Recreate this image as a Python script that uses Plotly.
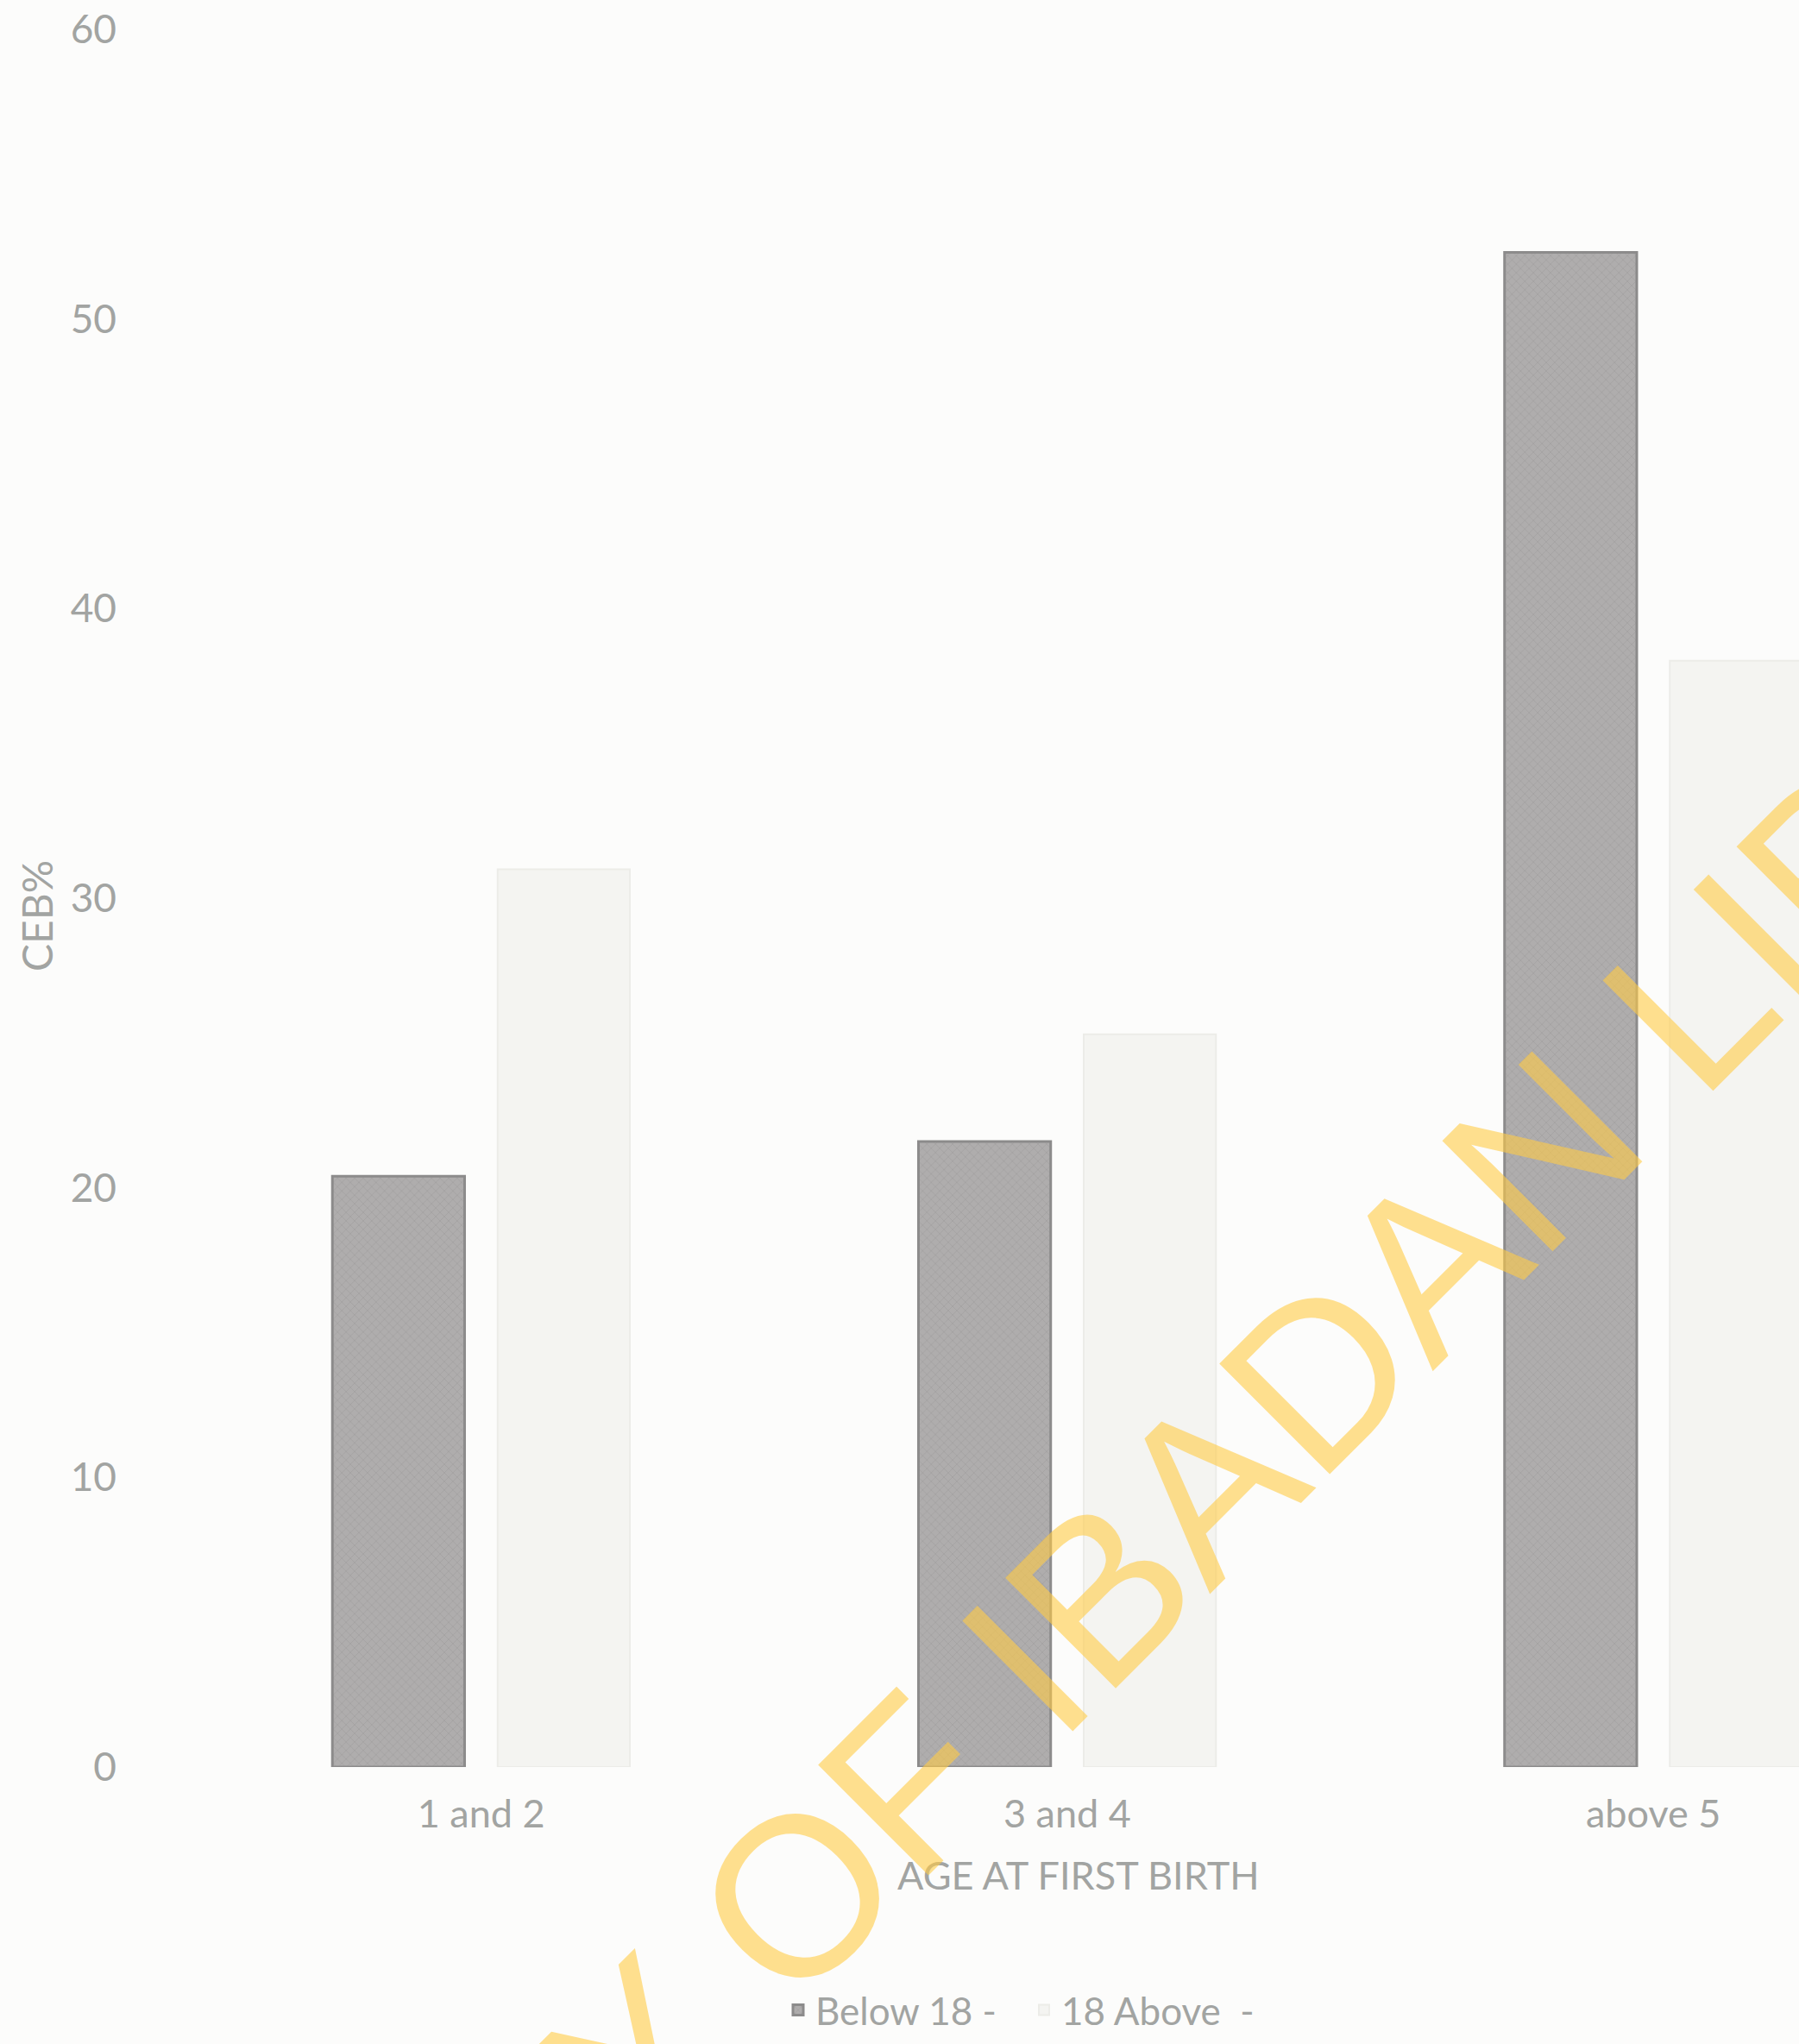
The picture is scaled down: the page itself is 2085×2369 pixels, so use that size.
import plotly.graph_objects as go

# Children ever born (CEB%) by age at first birth
categories = ["1 and 2", "3 and 4", "above 5"]
below_18 = [20.4, 21.6, 52.3]
above_18 = [31.0, 25.3, 38.2]
y_ticks = [0, 10, 20, 30, 40, 50, 60]

W, H = 2085, 2369
M_L, M_R, M_T, M_B = 218, 0, 34, 321
plot_w = W - M_L - M_R
plot_h = H - M_T - M_B
CAT_STEP = 679.25  # pixels per category


def to_paper(px, py):
    """Convert a pixel position on the page into paper coordinates."""
    return (px - M_L) / plot_w, (H - M_B - py) / plot_h


TEXT = "#a2a4a2"
FONT = "Lato, Liberation Sans, Arial, sans-serif"

fig = go.Figure()
fig.add_bar(
    x=categories, y=below_18, name="Below 18 -",
    marker=dict(
        color="#a8a6a6",
        line=dict(color="#8c8b8b", width=3),
        pattern=dict(shape="x", fgcolor="#999797", bgcolor="#afadad",
                     size=7, solidity=0.25),
    ),
)
fig.add_bar(
    x=categories, y=above_18, name="18 Above\u00a0\u00a0-",
    marker=dict(color="#f4f4f1", line=dict(color="#ecece8", width=2)),
)

wm_x, wm_y = to_paper(1193, 1928)
_, title_y = to_paper(0, 2173)
ceb_x, ceb_y = to_paper(42, 1062)
leg_x, leg_y = to_paper(905, 2330)

fig.update_layout(
    width=W, height=H,
    margin=dict(l=M_L, r=M_R, t=M_T, b=M_B, autoexpand=False),
    paper_bgcolor="#fcfcfb",
    plot_bgcolor="#fcfcfb",
    barmode="group",
    bargap=0.436,
    bargroupgap=0.2,
    font=dict(family=FONT, color=TEXT, size=44),
    showlegend=True,
    legend=dict(
        orientation="h", x=leg_x, y=leg_y, xanchor="left", yanchor="middle",
        font=dict(size=44, color=TEXT), bgcolor="rgba(0,0,0,0)",
        entrywidth=240, entrywidthmode="pixels", traceorder="normal",
    ),
    xaxis=dict(
        range=[-0.5, -0.5 + plot_w / CAT_STEP],
        showgrid=False, zeroline=False, showline=False, ticks="",
        tickfont=dict(size=45, color=TEXT), ticklabelstandoff=24,
    ),
    yaxis=dict(
        range=[0, 60], tickvals=y_ticks,
        showgrid=False, zeroline=False, showline=False, ticks="",
        tickfont=dict(size=46, color=TEXT), ticklabelstandoff=82,
        ticklabeloverflow="allow",
    ),
    annotations=[
        dict(
            text="CEB%", xref="paper", yref="paper", x=ceb_x, y=ceb_y,
            xanchor="center", yanchor="middle", textangle=-90, showarrow=False,
            font=dict(size=48, color=TEXT, family=FONT),
        ),
        dict(
            text="AGE AT FIRST BIRTH", xref="x", x=1.02, yref="paper", y=title_y,
            xanchor="center", yanchor="middle", showarrow=False,
            font=dict(size=45, color=TEXT, family=FONT),
        ),
        dict(
            text="UNIVERSITY OF IBADAN LIBRARY", xref="paper", yref="paper",
            x=wm_x, y=wm_y, xanchor="center", yanchor="middle",
            textangle=-45, showarrow=False,
            font=dict(size=263, color="rgba(255,204,70,0.6)",
                      family="Liberation Sans, Arial, sans-serif"),
        ),
    ],
)

fig.write_html("out.html")
